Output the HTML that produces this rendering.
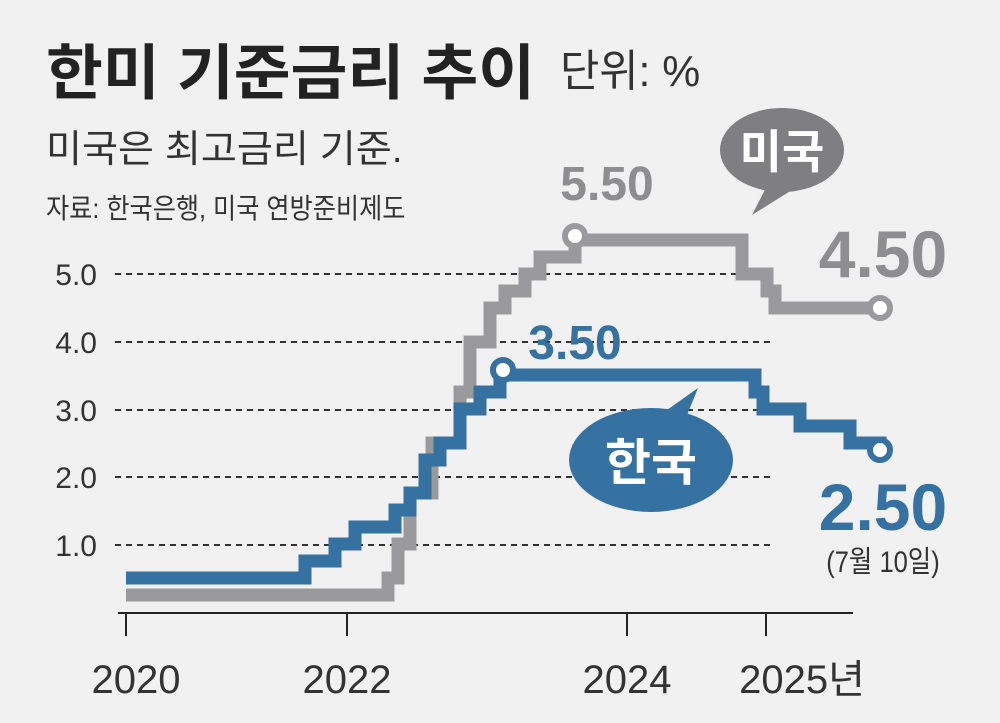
<!DOCTYPE html>
<html><head><meta charset="utf-8"><style>
body{margin:0;background:#f1f1f1;}
svg{display:block}
text{font-family:"Liberation Sans","Noto Sans CJK KR",sans-serif;}
</style></head><body>
<svg width="1000" height="723" viewBox="0 0 1000 723">
<rect width="1000" height="723" fill="#f1f1f1"/>
<g transform="translate(46,0) scale(1.03,1)">
<text x="0" y="94" font-size="60" font-weight="bold" fill="#222">한미 기준금리 추이</text>
</g>
<g transform="translate(560,0) scale(0.97,1)"><text x="0" y="86" font-size="44" fill="#333">단위: %</text></g>
<g transform="translate(46,0) scale(1.03,1)"><text x="0" y="162" font-size="38" fill="#333">미국은 최고금리 기준.</text></g>
<g transform="translate(46,0) scale(0.9,1)"><text x="0" y="218" font-size="28" fill="#333">자료: 한국은행, 미국 연방준비제도</text></g>
<g stroke="#333" stroke-width="2" stroke-dasharray="6,5">
<line x1="115" y1="274" x2="770" y2="274"/><line x1="115" y1="342" x2="770" y2="342"/>
<line x1="115" y1="410" x2="770" y2="410"/><line x1="115" y1="477" x2="770" y2="477"/>
<line x1="115" y1="545" x2="770" y2="545"/></g>
<g font-size="30" fill="#333" text-anchor="end">
<text x="97" y="285">5.0</text><text x="97" y="353">4.0</text><text x="97" y="421">3.0</text><text x="97" y="488">2.0</text><text x="97" y="556">1.0</text></g>
<line x1="118" y1="613" x2="853" y2="613" stroke="#222" stroke-width="2"/>
<g stroke="#222" stroke-width="2"><line x1="126" y1="613" x2="126" y2="636"/><line x1="347" y1="613" x2="347" y2="636"/><line x1="627" y1="613" x2="627" y2="636"/><line x1="766" y1="613" x2="766" y2="636"/></g>
<g font-size="40" fill="#333" text-anchor="middle">
<text x="136" y="693">2020</text><text x="347" y="693">2022</text><text x="627" y="693">2024</text><text x="802" y="693">2025년</text></g>
<polyline fill="none" stroke="#9a9a9c" stroke-width="13" points="126,595 388,595 388,578 398,578 398,544 410,544 410,493 432,493 432,443 460,443 460,392 470,392 470,342 490,342 490,308 505,308 505,291 525,291 525,274 540,274 540,257 575,257 575,240 742,240 742,274 767,274 767,291 775,291 775,308 880,308"/>
<polyline fill="none" stroke="#3572a2" stroke-width="13" points="126,578 305,578 305,561 335,561 335,544 355,544 355,527 395,527 395,510 410,510 410,493 425,493 425,460 440,460 440,443 460,443 460,409 480,409 480,392 500,392 500,375 755,375 755,392 763,392 763,409 800,409 800,426 850,426 850,443 880,443 880,450"/>
<circle cx="575" cy="236" r="10" fill="#fff" stroke="#9a9a9c" stroke-width="6"/>
<circle cx="880" cy="308" r="10" fill="#fff" stroke="#9a9a9c" stroke-width="6"/>
<circle cx="503" cy="370" r="10" fill="#fff" stroke="#3572a2" stroke-width="6"/>
<circle cx="880" cy="450" r="10" fill="#fff" stroke="#3572a2" stroke-width="6"/>
<text x="607" y="200" font-size="48" fill="#8e8e90" text-anchor="middle" font-weight="bold">5.50</text>
<text x="575" y="359" font-size="48" fill="#3572a2" text-anchor="middle" font-weight="bold">3.50</text>
<text x="883" y="277" font-size="66" fill="#8e8e90" text-anchor="middle" font-weight="bold">4.50</text>
<text x="883" y="530" font-size="66" fill="#3572a2" text-anchor="middle" font-weight="bold">2.50</text>
<text x="883" y="572" font-size="30" fill="#333" text-anchor="middle" transform="translate(883,0) scale(0.85,1) translate(-883,0)">(7월 10일)</text>
<ellipse cx="782" cy="150" rx="62" ry="42" fill="#7f7f81"/>
<polygon points="770,180 752,215 800,185" fill="#7f7f81"/>
<text x="782" y="168" font-size="46" font-weight="bold" fill="#fff" text-anchor="middle">미국</text>
<ellipse cx="651" cy="460" rx="82" ry="52" fill="#3572a2"/>
<polygon points="660,415 698,388 685,420" fill="#3572a2"/>
<text x="651" y="480" font-size="50" font-weight="bold" fill="#fff" text-anchor="middle">한국</text>
</svg>
</body></html>
